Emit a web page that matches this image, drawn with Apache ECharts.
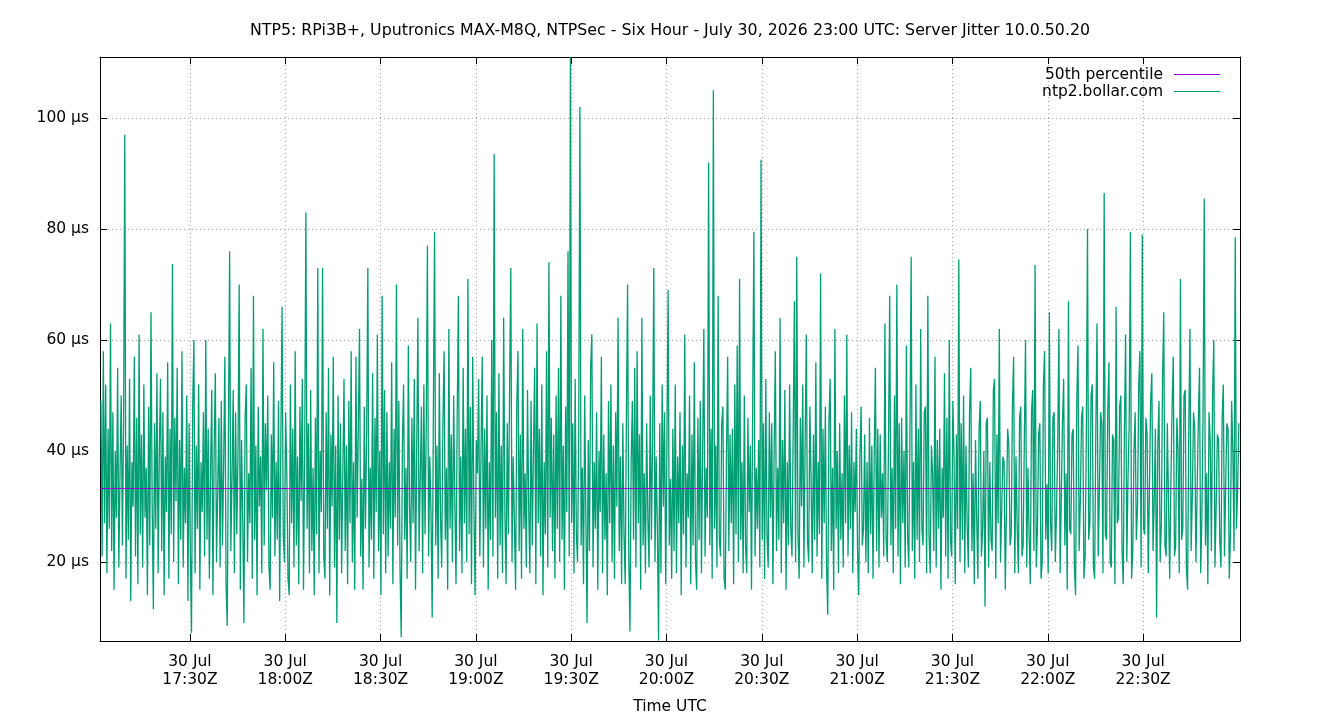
<!DOCTYPE html>
<html>
<head>
<meta charset="utf-8">
<script src="https://cdn.jsdelivr.net/npm/echarts@6/dist/echarts.min.js"></script>
<style>
html,body{margin:0;padding:0;background:#fff;}
#chart{width:1340px;height:720px;}
</style>
</head>
<body>
<div id="chart"></div>
<script>
// ---- data ----
const chartTitle = 'NTP5: RPi3B+, Uputronics MAX-M8Q, NTPSec - Six Hour - July 30, 2026 23:00 UTC: Server Jitter 10.0.50.20';
const xAxisTitle = 'Time UTC';
const seriesNames = ['50th percentile', 'ntp2.bollar.com'];
const tickDate = '30 Jul';
const tickTimes = ['17:30', '18:00', '18:30', '19:00', '19:30', '20:00', '20:30', '21:00', '21:30', '22:00', '22:30'];
const yTickValues = [20, 40, 60, 80, 100];
const yUnit = 'µs';
const rangeStart = '17:01.7';    // left edge of plot (UTC)
const rangeEnd = '23:00.5';      // right edge of plot (UTC)
const yMin = 5.77, yMax = 111.0;
const sampleStart = '17:02';     // first sample time
const sampleStepMinutes = 0.375; // sample spacing
const percentile50 = [33.25];
const jitter = [
  49, 21, 58, 27, 52, 18, 44, 26, 63, 22, 47, 15, 40, 28, 55, 19, 36, 50, 23, 45,
  97, 17, 41, 24, 53, 13, 38, 30, 57, 21, 46, 16, 61, 25, 43, 19, 52, 28, 37, 14,
  48, 23, 65, 30, 11.5, 45, 26, 54, 18, 40, 53, 22, 47, 14, 39, 29, 56, 17, 44, 25,
  73.7, 20, 46, 31, 55, 16, 42, 24, 58, 19, 37, 27, 50, 13, 45, 22, 7.2, 48, 60, 18,
  41, 26, 52, 15, 38, 29, 47, 21, 60, 24, 44, 17, 36, 51, 14, 40, 54, 20, 33, 46,
  19, 49, 23, 38, 57, 16, 8.5, 43, 76, 22, 35, 51, 18, 47, 25, 39, 70, 15, 42, 28,
  9, 46, 52, 20, 36, 27, 55, 17, 68, 24, 41, 14, 48, 30, 39, 18, 62, 23, 45, 33,
  50, 19, 15, 43, 28, 56, 21, 38, 24, 49, 13, 42, 66, 25, 20, 47, 36, 17, 14, 52,
  27, 44, 19, 58, 23, 39, 16, 48, 31, 53, 15, 40, 83, 26, 45, 18, 51, 22, 37, 14,
  46, 25, 73, 18, 40, 29, 73, 21, 17, 47, 26, 55, 14, 43, 30, 57, 19, 41, 9, 50,
  24, 45, 18, 36, 53, 22, 41, 16, 49, 27, 58, 20, 38, 15, 57, 28, 44, 62, 21, 35,
  15, 48, 26, 43, 73, 19, 37, 24, 54, 17, 46, 29, 61, 22, 40, 14, 68, 25, 51, 18,
  47, 21, 38, 26, 56, 16, 44, 28, 70, 23, 49, 19, 6.5, 41, 52, 24, 37, 17, 59, 30,
  20, 46, 27, 53, 15, 40, 64, 22, 35, 48, 18, 52, 25, 44, 77, 21, 39, 29, 10, 47,
  79.5, 23, 41, 17, 54, 28, 19, 45, 58, 24, 37, 15, 62, 26, 43, 20, 50, 31, 16, 46,
  68, 22, 39, 18, 55, 27, 44, 20, 71, 25, 48, 16, 57, 30, 14, 42, 36, 53, 21, 40,
  57, 19, 44, 26, 50, 15, 38, 24, 60, 21, 93.5, 28, 47, 17, 54, 23, 41, 18, 64, 29,
  16, 45, 25, 52, 73, 20, 39, 27, 15, 48, 58, 22, 43, 17, 62, 26, 36, 19, 51, 30,
  18, 49, 23, 40, 55, 16, 63, 27, 44, 21, 52, 14, 38, 25, 58, 19, 74, 28, 46, 22,
  43, 17, 50, 26, 55, 20, 68, 24, 41, 15, 48, 29, 76, 21, 111, 27, 45, 18, 53, 25,
  20, 44, 102, 23, 37, 16, 50, 28, 9, 42, 22, 55, 61, 19, 38, 26, 47, 15, 40, 29,
  57, 18, 43, 24, 36, 14, 49, 27, 52, 20, 41, 17, 47, 30, 64, 22, 39, 16, 45, 25,
  16, 46, 70, 21, 7.5, 38, 49, 24, 55, 19, 58, 27, 43, 15, 64, 23, 36, 18, 45, 28,
  19, 50, 24, 42, 73, 20, 39, 26, 5.8, 45, 18, 52, 30, 47, 16, 40, 69, 23, 35, 17,
  44, 22, 52, 18, 39, 27, 47, 14, 41, 25, 61, 19, 36, 28, 50, 16, 43, 23, 56, 20,
  15, 46, 24, 49, 18, 40, 62, 21, 37, 28, 92, 23, 44, 17, 105, 26, 41, 19, 68, 24,
  21, 45, 48, 17, 15, 39, 57, 22, 43, 27, 44, 16, 52, 25, 59, 20, 71, 24, 38, 18,
  50, 23, 18, 46, 29, 41, 15, 48, 79.5, 21, 37, 26, 42, 19, 92.5, 24, 45, 17, 53, 25,
  19, 47, 28, 45, 16, 40, 58, 22, 37, 24, 64, 18, 42, 27, 51, 15, 38, 23, 52, 26,
  21, 44, 67, 20, 75, 25, 17, 46, 30, 52, 19, 41, 61, 24, 20, 48, 35, 18, 43, 24,
  56, 21, 38, 25, 72, 17, 44, 27, 48, 19, 10.5, 45, 53, 22, 37, 15, 62, 26, 40, 18,
  45, 24, 36, 19, 50, 27, 61, 21, 41, 26, 47, 18, 38, 29, 44, 22, 14, 39, 48, 23,
  26, 43, 20, 38, 18, 46, 25, 41, 17, 39, 55, 22, 44, 19, 43, 28, 36, 21, 63, 24,
  20, 42, 68, 23, 37, 18, 50, 26, 70, 21, 45, 16, 46, 27, 40, 19, 59, 25, 19, 43,
  75, 22, 38, 17, 52, 24, 44, 20, 62, 26, 23, 47, 48, 18, 68, 25, 18, 41, 36, 22,
  57, 19, 42, 26, 44, 15, 37, 28, 54, 21, 46, 17, 60, 24, 21, 49, 39, 16, 43, 26,
  74.5, 20, 45, 24, 50, 18, 41, 27, 19, 47, 55, 22, 36, 16, 42, 28, 17, 44, 49, 21,
  26, 40, 12, 45, 46, 19, 38, 24, 22, 51, 53, 17, 43, 27, 62, 20, 20, 39, 38, 15,
  15, 44, 41, 23, 25, 48, 57, 18, 39, 26, 18, 46, 48, 21, 23, 42, 60, 19, 37, 25,
  16, 47, 51, 22, 73.5, 19, 26, 43, 45, 17, 20, 52, 58, 24, 34, 18, 65, 27, 22, 46,
  47, 20, 29, 41, 62, 18, 18, 45, 53, 23, 36, 15, 67, 26, 25, 43, 44, 19, 14, 49,
  59, 22, 31, 46, 48, 17, 21, 42, 80, 24, 27, 50, 52, 19, 17, 44, 63, 21, 33, 47,
  45, 18, 86.5, 25, 24, 47, 56, 20, 19, 43, 42, 16, 66, 27, 28, 48, 50, 22, 16, 44,
  61, 20, 35, 45, 79.5, 17, 22, 40, 47, 24, 30, 52, 58, 19, 79, 26, 25, 46, 43, 18,
  18, 49, 54, 22, 31, 44, 10, 41, 49, 20, 27, 53, 65, 23, 21, 45, 45, 17, 34, 48,
  57, 21, 23, 46, 40, 18, 71, 24, 26, 50, 51, 19, 15, 44, 62, 22, 32, 47, 44, 20,
  20, 45, 55, 18, 28, 47, 85.5, 23, 36, 16, 47, 42, 22, 50, 60, 19, 30, 43, 42, 24,
  19, 46, 52, 21, 34, 45, 44, 17, 25, 49, 40, 22, 78.5, 26, 33, 45
];

// ---- helpers ----
function toMin(s) { const p = s.split(':'); return (+p[0]) * 60 + parseFloat(p[1]); }
function fmtTime(m) {
  const h = Math.floor(m / 60), mm = Math.round(m - h * 60);
  return (h < 10 ? '0' : '') + h + ':' + (mm < 10 ? '0' : '') + mm;
}
const xMin = toMin(rangeStart), xMax = toMin(rangeEnd);
const xTickValues = tickTimes.map(toMin);
const t0 = toMin(sampleStart);
const jitterData = jitter.map((v, i) => [t0 + i * sampleStepMinutes, v]);
const medianData = [[xMin, percentile50[0]], [xMax, percentile50[0]]];

const FONT = 'DejaVu Sans';
const FS = 15.5;
const gridLine = { show: true, lineStyle: { color: '#a8a8a8', width: 1, type: [1, 3] } };

const chart = echarts.init(document.getElementById('chart'), null, { renderer: 'canvas' });
chart.setOption({
  animation: false,
  backgroundColor: '#ffffff',
  textStyle: { fontFamily: FONT },
  title: {
    text: chartTitle, left: 'center', top: 18,
    textStyle: { fontFamily: FONT, fontSize: 15.8, fontWeight: 'normal', color: '#000' }
  },
  legend: {
    data: seriesNames, orient: 'vertical', right: 120, top: 66, padding: 0,
    align: 'right', icon: 'rect', itemWidth: 46, itemHeight: 1, itemGap: 0,
    textStyle: { fontFamily: FONT, fontSize: FS, color: '#000', lineHeight: 17, padding: [0, 6, 0, 0] }
  },
  grid: { left: 100, right: 100, top: 57, bottom: 79, containLabel: false },
  xAxis: [{
    type: 'value', min: xMin, max: xMax, position: 'bottom',
    name: xAxisTitle, nameLocation: 'middle', nameGap: 58,
    nameTextStyle: { fontFamily: FONT, fontSize: FS, color: '#000' },
    axisLine: { show: true, onZero: false, lineStyle: { color: '#000', width: 1 } },
    axisTick: { show: true, inside: true, length: 7, customValues: xTickValues, lineStyle: { color: '#000' } },
    axisLabel: {
      customValues: xTickValues, margin: 12, color: '#000', fontFamily: FONT, fontSize: FS, lineHeight: 18,
      formatter: v => tickDate + '\n' + fmtTime(v) + 'Z'
    },
    splitLine: gridLine
  }, {
    type: 'value', min: xMin, max: xMax, position: 'top',
    axisLine: { show: true, onZero: false, lineStyle: { color: '#000', width: 1 } },
    axisTick: { show: true, inside: true, length: 7, customValues: xTickValues, lineStyle: { color: '#000' } },
    axisLabel: { show: false }, splitLine: { show: false }
  }],
  yAxis: [{
    type: 'value', min: yMin, max: yMax, position: 'left',
    axisLine: { show: true, onZero: false, lineStyle: { color: '#000', width: 1 } },
    axisTick: { show: true, inside: true, length: 7, customValues: yTickValues, lineStyle: { color: '#000' } },
    axisLabel: {
      customValues: yTickValues, margin: 11, color: '#000', fontFamily: FONT, fontSize: FS,
      formatter: v => v + ' ' + yUnit
    },
    splitLine: gridLine
  }, {
    type: 'value', min: yMin, max: yMax, position: 'right',
    axisLine: { show: true, onZero: false, lineStyle: { color: '#000', width: 1 } },
    axisTick: { show: true, inside: true, length: 7, customValues: yTickValues, lineStyle: { color: '#000' } },
    axisLabel: { show: false }, splitLine: { show: false }
  }],
  series: [{
    name: seriesNames[0], type: 'line', data: medianData, showSymbol: false, symbol: 'none',
    lineStyle: { color: '#9400d3', width: 1 }, itemStyle: { color: '#9400d3' }, z: 4
  }, {
    name: seriesNames[1], type: 'line', data: jitterData, showSymbol: false, symbol: 'none',
    lineStyle: { color: '#009e73', width: 1.3 }, itemStyle: { color: '#009e73' }, z: 3
  }]
});
</script>
</body>
</html>
